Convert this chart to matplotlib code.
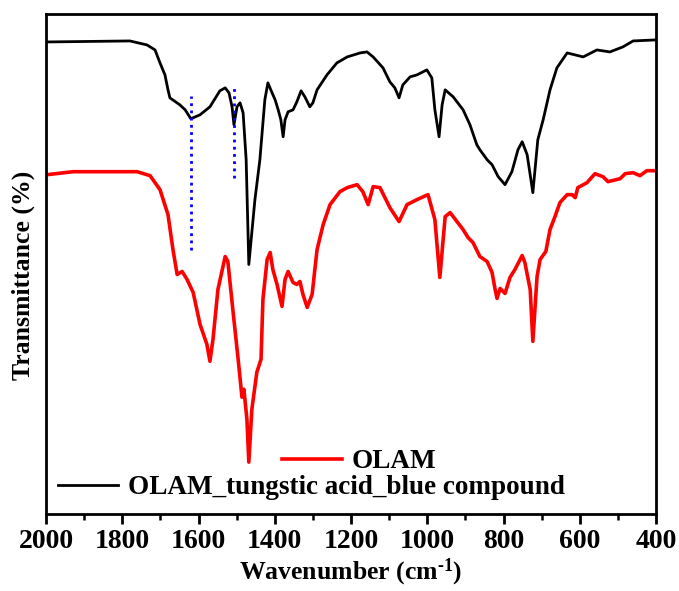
import numpy as np
import matplotlib
matplotlib.use('Agg')
import matplotlib.pyplot as plt
from matplotlib.ticker import MultipleLocator, NullLocator

plt.rcParams['font.family'] = ['Liberation Serif', 'DejaVu Serif']
plt.rcParams['font.weight'] = 'bold'
plt.rcParams['mathtext.fontset'] = 'custom'
plt.rcParams['mathtext.rm'] = 'Liberation Serif:bold'
plt.rcParams['mathtext.bf'] = 'Liberation Serif:bold'
plt.rcParams['mathtext.default'] = 'bf'

# OLAM_tungstic acid_blue compound (black)
wn_blue = [1997, 1780, 1735, 1714, 1701, 1688, 1680, 1675, 1649, 1635,
           1620, 1596, 1570, 1544, 1530, 1520, 1512, 1507, 1499, 1491,
           1483, 1475, 1468, 1452, 1439, 1426, 1418, 1407, 1399, 1391,
           1384, 1378, 1373, 1365, 1352, 1342, 1331, 1321, 1308, 1300,
           1289, 1263, 1237, 1210, 1176, 1158, 1142, 1116, 1098, 1085,
           1074, 1064, 1045, 1027, 1001, 988, 980, 969, 961, 953,
           932, 906, 888, 870, 862, 843, 830, 814, 796, 778,
           762, 751, 738, 723, 710, 696, 678, 660, 633, 591,
           555, 521, 487, 460, 403]
t_blue = [94.6, 94.8, 94.0, 93.0, 90.4, 88.0, 85.0, 83.4, 82.0, 81.0,
          79.2, 80.0, 81.6, 84.8, 85.4, 84.4, 81.6, 78.0, 81.6, 82.4,
          80.4, 71.0, 50.0, 63.0, 71.0, 83.0, 86.4, 84.4, 83.0, 81.0,
          79.0, 75.6, 79.0, 80.6, 81.0, 82.6, 84.8, 83.6, 81.6, 82.4,
          85.0, 88.0, 90.4, 91.6, 92.4, 92.6, 91.6, 89.4, 86.6, 85.4,
          83.4, 86.0, 87.6, 88.0, 89.0, 87.4, 81.0, 75.6, 82.0, 85.0,
          83.6, 81.0, 78.0, 74.0, 73.0, 71.0, 70.0, 67.6, 66.0, 68.6,
          73.0, 74.6, 72.0, 64.4, 75.0, 79.0, 85.0, 89.4, 92.4, 91.6,
          93.0, 92.6, 93.6, 94.8, 95.0]

# OLAM (red)
wn_olam = [1997, 1929, 1761, 1727, 1701, 1680, 1667, 1656, 1643, 1630,
           1614, 1596, 1578, 1570, 1562, 1549, 1530, 1523, 1510, 1496,
           1486, 1481, 1473, 1468, 1460, 1447, 1436, 1431, 1420, 1412,
           1405, 1394, 1381, 1373, 1365, 1352, 1342, 1334, 1326, 1315,
           1302, 1289, 1273, 1255, 1229, 1210, 1184, 1169, 1155, 1142,
           1124, 1098, 1074, 1053, 1027, 998, 980, 967, 953, 940,
           922, 906, 893, 880, 862, 843, 830, 822, 817, 809,
           796, 783, 770, 751, 744, 730, 723, 712, 704, 689,
           678, 665, 652, 633, 620, 612, 605, 581, 560, 539,
           526, 494, 481, 460, 442, 424, 403]
t_olam = [68.0, 68.6, 68.6, 67.8, 65.0, 60.0, 53.0, 48.0, 48.6, 47.0,
          44.4, 38.0, 34.0, 30.6, 35.0, 45.0, 51.6, 50.6, 41.0, 31.0,
          23.4, 25.0, 19.0, 10.4, 21.0, 28.4, 31.0, 43.0, 51.0, 52.4,
          49.0, 46.0, 41.6, 47.0, 48.6, 46.4, 46.0, 46.6, 44.0, 41.4,
          44.0, 53.0, 58.0, 62.0, 64.6, 65.4, 66.0, 64.6, 62.0, 65.6,
          65.4, 61.4, 58.6, 62.0, 63.0, 64.0, 59.0, 47.4, 59.6, 60.4,
          58.6, 57.0, 55.4, 54.4, 51.6, 50.6, 48.4, 45.0, 43.2, 45.2,
          44.2, 47.4, 49.0, 51.8, 50.4, 45.0, 34.6, 47.6, 51.0, 52.6,
          57.0, 59.6, 62.4, 64.0, 64.0, 63.4, 65.4, 66.4, 68.2, 67.6,
          66.6, 67.2, 68.2, 68.4, 67.8, 68.8, 68.8]

# marker lines (wavenumber, T from, T to)
mark_wn = [1620, 1507]
mark_lo = [53.0, 67.4]
mark_hi = [83.8, 85.6]

fig = plt.figure(figsize=(6.79, 5.91), dpi=100)
ax = fig.add_axes([46/679, 1-514/591, 610/679, 500/591])

l_red, = ax.plot(wn_olam, t_olam, color='red', lw=2.6, label='OLAM')
l_blk, = ax.plot(wn_blue, t_blue, color='black', lw=2.0,
                 label='OLAM_tungstic acid_blue compound')
for w, lo, hi in zip(mark_wn, mark_lo, mark_hi):
    ax.plot([w, w], [lo, hi], color='blue', lw=2, linestyle=(0, (1, 1.6)))

ax.set_xlim(2000, 400)
ax.set_ylim(0, 100.2)
ax.xaxis.set_major_locator(MultipleLocator(200))
ax.xaxis.set_minor_locator(MultipleLocator(100))
ax.yaxis.set_major_locator(NullLocator())
ax.tick_params(axis='x', which='major', direction='out', length=7, width=2,
               labelsize=20, pad=4)
ax.tick_params(axis='x', which='minor', direction='out', length=4, width=1.8)
for s in ax.spines.values():
    s.set_linewidth(2)

ax.set_xlabel(r'Wavenumber (cm$^{\text{-1}}$)', fontsize=18.5, fontweight='bold', labelpad=2)
ax.set_ylabel('Transmittance (%)', fontsize=18.5, fontweight='bold', labelpad=8)
ax.yaxis.label.set_y(0.478)

leg1 = ax.legend(handles=[l_red], loc='center left', bbox_to_anchor=(0.387, 0.104),
                 frameon=False, fontsize=19.5, handlelength=2.2, handletextpad=0.37,
                 borderpad=0, borderaxespad=0)
ax.add_artist(leg1)
ax.legend(handles=[l_blk], loc='center left', bbox_to_anchor=(0.02, 0.052),
          frameon=False, fontsize=19.5, handlelength=2.2, handletextpad=0.37,
          borderpad=0, borderaxespad=0)

fig.savefig('out.png', dpi=100)
